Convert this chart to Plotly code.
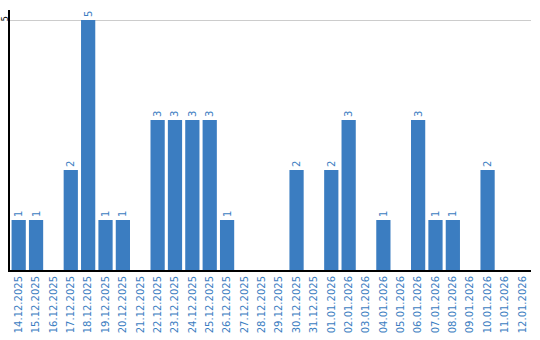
import plotly.graph_objects as go

dates = ["14.12.2025", "15.12.2025", "16.12.2025", "17.12.2025", "18.12.2025",
         "19.12.2025", "20.12.2025", "21.12.2025", "22.12.2025", "23.12.2025",
         "24.12.2025", "25.12.2025", "26.12.2025", "27.12.2025", "28.12.2025",
         "29.12.2025", "30.12.2025", "31.12.2025", "01.01.2026", "02.01.2026",
         "03.01.2026", "04.01.2026", "05.01.2026", "06.01.2026", "07.01.2026",
         "08.01.2026", "09.01.2026", "10.01.2026", "11.01.2026", "12.01.2026"]
counts = [1, 1, 0, 2, 5, 1, 1, 0, 3, 3, 3, 3, 1, 0, 0, 0, 2, 0, 2, 3,
          0, 1, 0, 3, 1, 1, 0, 2, 0, 0]
ytick_vals = [5]

BLUE = "#3b7dc1"
FONT = "DejaVu Sans"

labels = [str(v) if v else "" for v in counts]

fig = go.Figure(go.Bar(
    x=dates, y=counts, text=labels, textposition="outside", textangle=-90,
    textfont=dict(family=FONT, size=10, color=BLUE),
    marker=dict(color=BLUE, line=dict(width=0)),
    cliponaxis=False, hoverinfo="skip",
))

fig.update_layout(
    width=540, height=340,
    margin=dict(l=10, r=9, t=10, b=70, autoexpand=False),
    paper_bgcolor="white", plot_bgcolor="white",
    bargap=0.18, showlegend=False,
    font=dict(family=FONT, size=10),
)
fig.update_xaxes(
    type="category", showline=True, linecolor="black", linewidth=2,
    showgrid=False, ticks="", tickangle=-90,
    tickfont=dict(family=FONT, size=10, color=BLUE), automargin=False,
)
fig.update_yaxes(
    range=[0, 5.2], tickvals=ytick_vals, showline=True, linecolor="black",
    linewidth=2, showgrid=True, gridcolor="#cccccc", gridwidth=1,
    zeroline=False, ticks="", tickangle=-90, ticklabelstandoff=-3,
    tickfont=dict(family=FONT, size=8, color="black"), automargin=False,
)

fig.write_html("out.html")
